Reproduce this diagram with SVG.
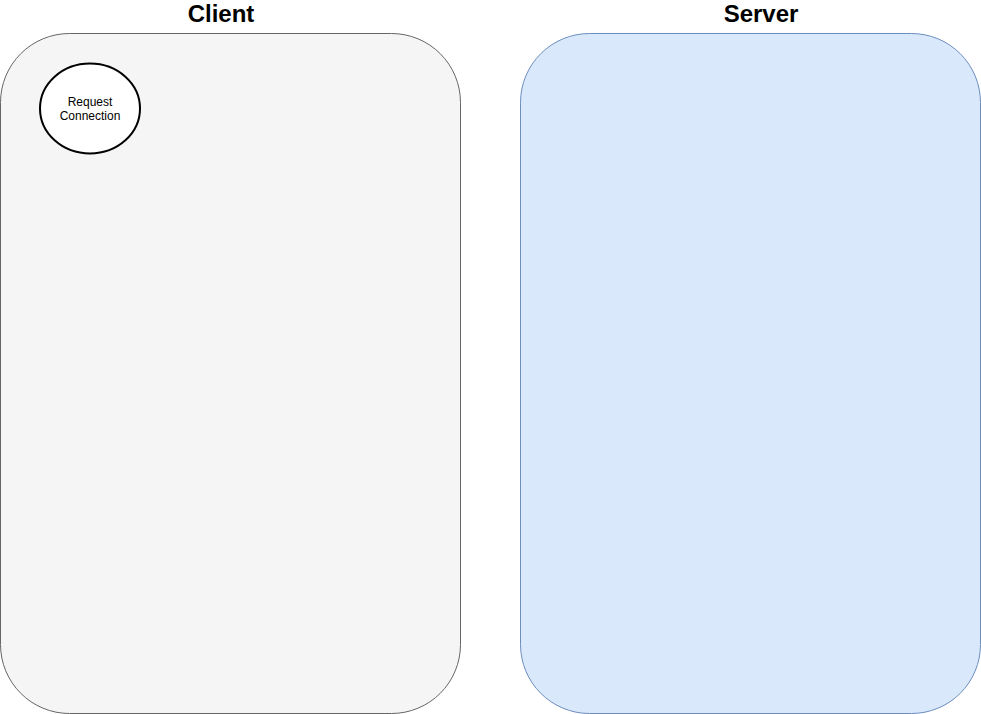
<svg xmlns="http://www.w3.org/2000/svg" width="981" height="714" viewBox="0 0 981 714">
<style>
.title{font-family:"Liberation Sans",Arial,sans-serif;font-weight:bold;font-size:24px;fill:#000;text-anchor:middle}
.lbl{font-family:"Liberation Sans",Arial,sans-serif;font-size:12px;fill:#000;text-anchor:middle}
</style>
<rect width="981" height="714" fill="#fff"/>
<g id="client">
<rect x="0.5" y="33.5" width="460" height="680" rx="69" ry="69" fill="#f5f5f5" stroke="#666666" stroke-width="1"/>
</g>
<g id="server">
<rect x="520.5" y="33.5" width="460" height="680" rx="69" ry="69" fill="#dae8fc" stroke="#6c8ebf" stroke-width="1"/>
</g>
<g id="client-title"><text class="title" x="221" y="22">Client</text></g>
<g id="server-title"><text class="title" x="761" y="22">Server</text></g>
<g id="request-connection">
<ellipse cx="90" cy="108.5" rx="50" ry="45" fill="#fff" stroke="#000" stroke-width="2"/>
<text class="lbl" x="90" y="106">Request</text>
<text class="lbl" x="90" y="120">Connection</text>
</g>
<g id="connectors"/>
</svg>
